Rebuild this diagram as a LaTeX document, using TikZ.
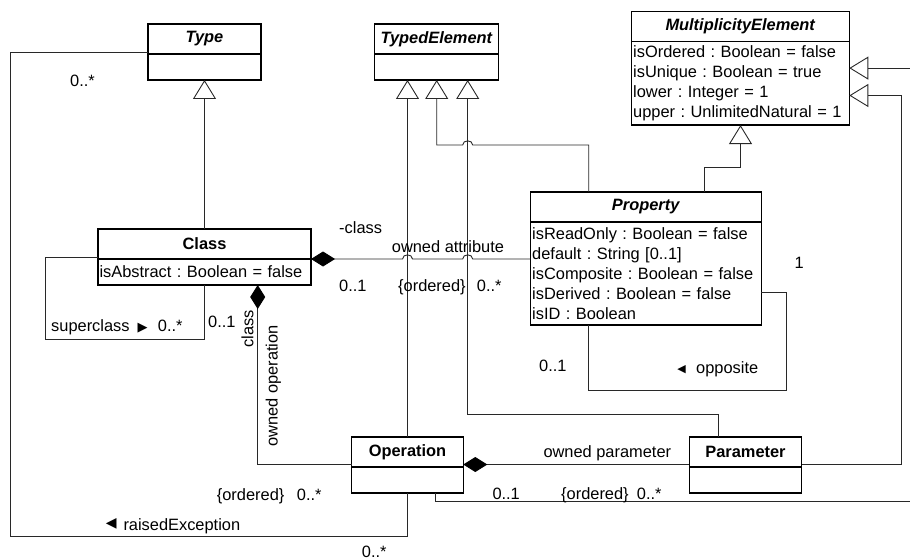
\documentclass[tikz,border=0pt]{standalone}
\usepackage{fontspec}
\setmainfont{Liberation Sans}
\newfontfamily\symfont{DejaVu Sans}
\usepackage{tikz}
\usetikzlibrary{arrows.meta}
\usepackage{xcolor}
\definecolor{ColLine}{RGB}{40,40,40}
\newcommand{\umlfont}{\fontsize{16.4}{20}\selectfont}
\frenchspacing
\tikzstyle{ClassHead}=[draw=black,line width=1.4pt,rectangle,outer sep=0pt,minimum height=30pt,
inner sep=0pt,font=\umlfont\bfseries]
\tikzstyle{ClassBody}=[draw=black,line width=1.4pt,rectangle,outer sep=0pt,anchor=north,
inner xsep=1.5pt,inner ysep=0pt,align=left,font=\umlfont]
\tikzstyle{Assoc}=[ColLine,line width=0.9pt]
\tikzstyle{Gen}=[Assoc,-{Triangle[open,length=19pt,width=23pt]}]
\tikzstyle{Comp}=[Assoc,{Diamond[length=24pt,width=15pt,black]}-]
\tikzstyle{Lbl}=[inner sep=0pt,font=\umlfont,anchor=base west]
\tikzstyle{Dir}=[inner sep=0pt]

\begin{document}
\begin{tikzpicture}[x=1pt,y=-1pt]
        \useasboundingbox(0,0)rectangle(910,559);
        \clip(0,0)rectangle(910,559);
        % classes
        \node[ClassHead,minimum width=113pt](type)at(204.5,39){\textit{Type}};
        \node[ClassBody,minimum width=113pt,minimum height=26pt](type-b)at(type.south){};
        \node[ClassHead,minimum width=124pt](te)at(436.7,39){\textit{TypedElement}};
        \node[ClassBody,minimum width=124pt,minimum height=26pt](te-b)at(te.south){};
        \node[ClassHead,minimum width=217.6pt](me)at(740.5,26.5){\textit{MultiplicityElement}};
        \node[ClassBody,minimum width=217.6pt,minimum height=83.6pt,text width=214.6pt](me-b)at(me.south){isOrdered : Boolean = false\\isUnique : Boolean = true\\lower : Integer = 1\\upper : UnlimitedNatural = 1};
        \node[ClassHead,minimum width=213pt](class)at(204.5,244){Class};
        \node[ClassBody,minimum width=213pt,minimum height=26pt,text width=210pt](class-b)at(class.south){isAbstract : Boolean = false};
        \node[ClassHead,minimum width=230.6pt](property)at(646,206.8){\textit{Property}};
        \node[ClassBody,minimum width=230.6pt,minimum height=103pt,text width=227.6pt](property-b)at(property.south){isReadOnly : Boolean = false\\default : String [0..1]\\isComposite : Boolean = false\\isDerived : Boolean = false\\isID : Boolean};
        \node[ClassHead,minimum width=111.6pt](operation)at(407.5,452){Operation};
        \node[ClassBody,minimum width=111.6pt,minimum height=26pt](operation-b)at(operation.south){};
        \node[ClassHead,minimum width=112.4pt](parameter)at(745.5,452){Parameter};
        \node[ClassBody,minimum width=112.4pt,minimum height=26pt](parameter-b)at(parameter.south){};
        % generalizations
        \draw[Gen](class.north)--(type-b.south);
        \draw[Gen](operation.north)--(operation.north|-te-b.south);
        \draw[Gen]([xshift=-57.3pt]property.north)|-(472.7,145)..controls(472.7,139.5)and(462.7,139.5)..(462.7,145)-|(te-b.south);
        \draw[Gen]([xshift=-27.5pt]parameter.north)--++(0,-23)-|([xshift=31pt]te-b.south);
        \draw[Gen]([xshift=58pt]property.north)--++(0,-24.5)-|(me-b.south);
        \draw[Gen]([yshift=2.5pt]parameter.south east)-|([xshift=52pt,yshift=-12.2pt]me-b.east)--([yshift=-12.2pt]me-b.east);
        \draw[Gen]([xshift=28.2pt]operation-b.south)|-(930,501.7)|-([yshift=15.2pt]me-b.east);
        % associations
        \draw[Comp](class.south east)--(402.5,259)..controls(402.5,253.5)and(412.5,253.5)..(412.5,259)--(462.7,259)..controls(462.7,253.5)and(472.7,253.5)..(472.7,259)--(property-b.west|-class.south east);
        \draw[Comp]([xshift=53.2pt]class-b.south)|-([yshift=2.5pt]operation.south west);
        \draw[Comp]([yshift=2.5pt]operation.south east)--([yshift=2.5pt]parameter.south west);
        \draw[Assoc]([yshift=1.5pt]class.south west)-|(45,339)-|(class-b.south);
        \draw[Assoc]([yshift=-18.8pt]property-b.east)-|(786,390.7)-|([xshift=-57.3pt]property-b.south);
        \draw[Assoc]([yshift=2pt]type.south west)-|(10.7,536)-|(operation-b.south);
        % labels
        \node[Lbl](m-type)at(70,87){0..*};
        \node[Lbl](n-super)at(51,331){superclass};
        \node[Dir,font=\symfont\fontsize{13}{14}\selectfont](d-super)at(142.5,328.5){▶};
        \node[Lbl](m-super)at(157.7,331){0..*};
        \node[Lbl](m-sub)at(208,327.6){0..1};
        \node[Lbl,anchor=center,rotate=90](r-class)at(247.5,329){class};
        \node[Lbl,anchor=center,rotate=90](n-ownop)at(273.5,386){owned operation};
        \node[Lbl](o-raise)at(216.7,500){\{ordered\}};
        \node[Lbl](m-raise)at(296.7,500){0..*};
        \node[Dir,font=\symfont\fontsize{14}{15}\selectfont](d-raise)at(111.3,524){◀};
        \node[Lbl](n-raise)at(123.3,530){raisedException};
        \node[Lbl](m-exc)at(361.7,557.3){0..*};
        \node[Lbl](r-attr)at(339,233.5){-class};
        \node[Lbl](n-attr)at(391.7,252.7){owned attribute};
        \node[Lbl](m-attrc)at(339,291.7){0..1};
        \node[Lbl](o-attr)at(398,291.7){\{ordered\}};
        \node[Lbl](m-attr)at(476.7,291.7){0..*};
        \node[Lbl](m-opp1)at(794.5,268.6){1};
        \node[Lbl](m-opp2)at(539,371){0..1};
        \node[Dir,font=\symfont\fontsize{11}{12}\selectfont](d-opp)at(681.7,369.5){◀};
        \node[Lbl](n-opp)at(696,373){opposite};
        \node[Lbl](n-param)at(543.3,457){owned parameter};
        \node[Lbl](m-paramop)at(492.3,499){0..1};
        \node[Lbl](o-param)at(561,499){\{ordered\}};
        \node[Lbl](m-param)at(636.7,499){0..*};
    \end{tikzpicture}
\end{document}
